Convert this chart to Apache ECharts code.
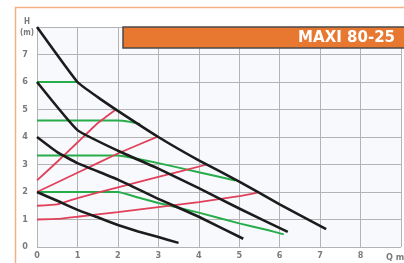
<!DOCTYPE html>
<html>
<head>
	<meta charset="UTF-8" />
	<title>MAXI 80-25</title>
	<style>
		html, body { margin: 0; padding: 0; background: #fff; }
		#chart { width: 404px; height: 263px; }
	</style>
	<script src="https://cdn.jsdelivr.net/npm/echarts@6/dist/echarts.min.js"></script>
</head>
<body>
	<div id="chart"></div>
	<script>
		var title = "MAXI 80-25";
		var xTicks = ["0", "1", "2", "3", "4", "5", "6", "7", "8"];
		var yTicks = ["0", "1", "2", "3", "4", "5", "6", "7"];

		// pump curves, [Q, H]
		var black1 = [[0, 8], [1, 6], [1.5, 5.45], [2, 4.95], [3, 4.0], [4, 3.15], [5, 2.38], [6, 1.55], [7.15, 0.65]];
		var black2 = [[0, 6], [1, 4.25], [2, 3.5], [3, 2.85], [4, 2.14], [5, 1.4], [6.2, 0.55]];
		var black3 = [[0, 4], [0.5, 3.45], [1, 3.05], [2, 2.45], [3, 1.75], [4, 1.1], [5.1, 0.3]];
		var black4 = [[0, 2], [0.5, 1.68], [1, 1.35], [1.5, 1.08], [2, 0.8], [2.5, 0.56], [3, 0.36], [3.5, 0.15]];

		var green1 = [[0, 6], [1, 6]];
		var green2 = [[0, 4.6], [2, 4.6], [2.3, 4.55], [2.55, 4.47]];
		var green3 = [[0, 3.33], [2, 3.33], [2.5, 3.2], [3, 3.05], [4, 2.72], [4.9, 2.42]];
		var green4 = [[0, 2], [2, 2], [2.5, 1.8], [3, 1.6], [4, 1.25], [5, 0.86], [5.7, 0.62], [6.1, 0.46]];

		var red1 = [[0, 2.42], [0.5, 3.1], [1, 3.8], [1.5, 4.5], [1.95, 5.0]];
		var red2 = [[0, 2], [1, 2.7], [2, 3.4], [3, 4.02]];
		var red3 = [[0, 1.5], [0.5, 1.55], [1, 1.78], [2, 2.17], [3, 2.55], [4.2, 3.0]];
		var red4 = [[0, 1.0], [0.5, 1.02], [1, 1.1], [2, 1.27], [3, 1.45], [4, 1.63], [5, 1.85], [5.45, 1.98]];

		var chart = echarts.init(document.getElementById("chart"));

		function curve(data, color, width) {
			return {
				type: "line",
				data: data,
				symbol: "none",
				smooth: 0.12,
				lineStyle: { color: color, width: width },
				z: 3
			};
		}

		var series = [];
		[green1, green2, green3, green4].forEach(function (d) { series.push(curve(d, "#26ad4a", 2)); });
		[red1, red2, red3, red4].forEach(function (d) { series.push(curve(d, "#e0415a", 1.8)); });
		[black1, black2, black3, black4].forEach(function (d) { series.push(curve(d, "#1c1c1c", 2.6)); });

		var labelStyle = { color: "#7a7a7a", fontSize: 9, fontWeight: "bold", fontFamily: "DejaVu Sans Condensed, sans-serif" };

		chart.setOption({
			animation: false,
			backgroundColor: "#fff",
			grid: {
				left: 37, top: 27, width: 369, height: 220,
				show: true, backgroundColor: "#f7f9fc", borderWidth: 0
			},
			xAxis: {
				type: "value", min: 0, max: 9, interval: 1,
				axisLine: { show: false }, axisTick: { show: false },
				splitLine: { lineStyle: { color: "#b3b3b3", width: 1 } },
				axisLabel: Object.assign({
					margin: 4,
					formatter: function (v) { return xTicks[v] || ""; }
				}, labelStyle)
			},
			yAxis: {
				type: "value", min: 0, max: 8, interval: 1,
				axisLine: { show: false }, axisTick: { show: false },
				splitLine: { lineStyle: { color: "#b3b3b3", width: 1 } },
				axisLabel: Object.assign({
					margin: 9,
					formatter: function (v) { return yTicks[v] || ""; }
				}, labelStyle)
			},
			graphic: [
				{
					type: "rect", z: 10, silent: true,
					shape: { x: 15.5, y: 7.5, width: 500, height: 400 },
					style: { fill: "none", stroke: "#f2b083", lineWidth: 1.5 }
				},
				{
					type: "rect", z: 10,
					shape: { x: 123, y: 27, width: 300, height: 21 },
					style: { fill: "#e8782f", stroke: "#4a4a4a", lineWidth: 1.5 }
				},
				{
					type: "text", z: 11, x: 395, y: 38,
					style: {
						text: title, fill: "#fff", font: "bold 15px DejaVu Sans, sans-serif",
						align: "right", verticalAlign: "middle"
					}
				},
				{
					type: "text", z: 11, x: 27, y: 22,
					style: { text: "H", fill: "#7a7a7a", font: "bold 8px DejaVu Sans Condensed, sans-serif", align: "center", verticalAlign: "middle" }
				},
				{
					type: "text", z: 11, x: 27, y: 33,
					style: { text: "(m)", fill: "#7a7a7a", font: "bold 8px DejaVu Sans Condensed, sans-serif", align: "center", verticalAlign: "middle" }
				},
				{
					type: "text", z: 11, x: 386, y: 258,
					style: { text: "Q m³/h", fill: "#7a7a7a", font: "bold 9px DejaVu Sans Condensed, sans-serif", align: "left", verticalAlign: "middle" }
				}
			],
			series: series
		});
	</script>
</body>
</html>
